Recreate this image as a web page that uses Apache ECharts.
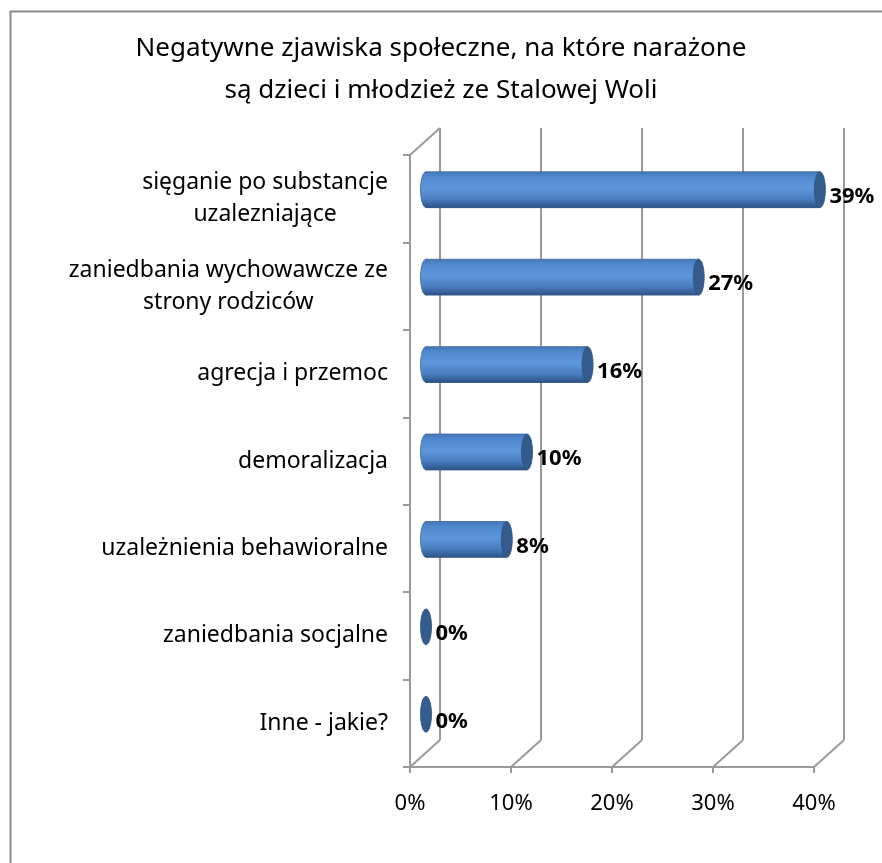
<!DOCTYPE html>
<html><head><meta charset="utf-8">
<script src="https://cdn.jsdelivr.net/npm/echarts@6/dist/echarts.min.js"></script>
<style>html,body{margin:0;padding:0;background:#fff}#c{width:882px;height:863px}</style>
</head><body><div id="c"></div>
<script>
var titleLines = ['Negatywne zjawiska społeczne, na które narażone', 'są dzieci i młodzież ze Stalowej Woli'];
var categories = ['sięganie po substancje\nuzalezniające', 'zaniedbania wychowawcze ze\nstrony rodziców', 'agrecja i przemoc', 'demoralizacja', 'uzależnienia behawioralne', 'zaniedbania socjalne', 'Inne - jakie?'];
var values = [39, 27, 16, 10, 8, 0, 0];
var valueLabels = ['39%', '27%', '16%', '10%', '8%', '0%', '0%'];
var xTicks = [0, 10, 20, 30, 40];

var FONT = '"Noto Sans", "Open Sans", sans-serif';
var GRID_COLOR = '#9a9a9a';
var DX = 30, DY = -27;

var chart = echarts.init(document.getElementById('c'), null, {renderer: 'canvas'});

function diagItem(params, api) {
  var cs = params.coordSys;
  var v = api.value(0);
  var x = api.coord([v, 0])[0];
  var bottom = cs.y + cs.height;
  var children = [{
    type: 'line', shape: {x1: x, y1: bottom, x2: x + DX, y2: bottom + DY},
    style: {stroke: GRID_COLOR, lineWidth: 2}
  }];
  if (v === 0) {
    children.push({
      type: 'line', shape: {x1: x, y1: cs.y, x2: x + DX, y2: cs.y + DY},
      style: {stroke: GRID_COLOR, lineWidth: 2}
    });
  }
  return {type: 'group', children: children};
}

function barItem(params, api) {
  var idx = api.value(1);
  var v = api.value(0);
  var start = api.coord([0, idx]);
  var end = api.coord([v, idx]);
  var band = api.size([0, 1])[1];
  var h = band * 0.41;
  var ry = h / 2, rx = 5.5;
  var grad = new echarts.graphic.LinearGradient(0, 0, 0, 1, [
    {offset: 0, color: '#4777b8'},
    {offset: 0.12, color: '#4f86cc'},
    {offset: 0.45, color: '#5d97da'},
    {offset: 0.75, color: '#4a7fc2'},
    {offset: 1, color: '#2c5387'}
  ]);
  var children = [];
  if (v > 0) {
    children.push({
      type: 'ellipse', shape: {cx: start[0], cy: start[1], rx: rx, ry: ry},
      style: {fill: grad, stroke: '#3a669e', lineWidth: 0.8}
    });
    children.push({
      type: 'rect', shape: {x: start[0], y: start[1] - ry, width: end[0] - start[0], height: h},
      style: {fill: grad}
    });
    children.push({
      type: 'line', shape: {x1: start[0], y1: start[1] - ry, x2: end[0], y2: end[1] - ry},
      style: {stroke: '#3a669e', lineWidth: 0.8}
    });
    children.push({
      type: 'line', shape: {x1: start[0], y1: start[1] + ry, x2: end[0], y2: end[1] + ry},
      style: {stroke: '#2a4d7c', lineWidth: 0.8}
    });
  }
  children.push({
    type: 'ellipse', shape: {cx: end[0], cy: end[1], rx: rx, ry: ry},
    style: {fill: '#335b8c', stroke: '#2c5080', lineWidth: 0.8}
  });
  children.push({
    type: 'text',
    style: {
      text: valueLabels[params.dataIndex], x: end[0] + rx + 4, y: end[1] + 7,
      align: 'left', verticalAlign: 'middle',
      font: 'bold 22px ' + FONT, fill: '#000'
    }
  });
  return {type: 'group', children: children};
}

var option = {
  animation: false,
  backgroundColor: '#fff',
  title: {
    text: titleLines.join('\n'),
    left: 'center', top: 23,
    textStyle: {fontFamily: FONT, fontSize: 26, fontWeight: 'normal', color: '#000', lineHeight: 42}
  },
  graphic: [{
    type: 'rect', left: 8, top: 9, shape: {width: 900, height: 900},
    style: {fill: 'none', stroke: '#8c8c8c', lineWidth: 2}, silent: true, z: -1
  }],
  grid: [
    {left: 440, top: 128, width: 404, height: 612},
    {left: 410, top: 155, width: 404, height: 612},
    {left: 426, top: 146, width: 404, height: 612}
  ],
  xAxis: [
    {gridIndex: 0, type: 'value', min: 0, max: 40, interval: 10,
     axisLine: {show: false}, axisTick: {show: false}, axisLabel: {show: false},
     splitLine: {show: true, lineStyle: {color: GRID_COLOR, width: 2}}},
    {gridIndex: 1, type: 'value', min: 0, max: 40, interval: 10,
     axisLine: {show: true, lineStyle: {color: GRID_COLOR, width: 2}},
     axisTick: {show: true, length: 6, lineStyle: {color: GRID_COLOR, width: 2}},
     splitLine: {show: false},
     axisLabel: {formatter: '{value}%', fontFamily: FONT, fontSize: 22, color: '#000', margin: 26}},
    {gridIndex: 2, type: 'value', min: 0, max: 40, show: false}
  ],
  yAxis: [
    {gridIndex: 0, type: 'category', data: categories, inverse: true, show: false},
    {gridIndex: 1, type: 'category', data: categories, inverse: true,
     axisLine: {show: true, lineStyle: {color: GRID_COLOR, width: 2}},
     axisTick: {show: true, length: 7, lineStyle: {color: GRID_COLOR, width: 2}},
     splitLine: {show: false},
     axisLabel: {
       margin: 22, fontFamily: FONT, fontSize: 23, color: '#000', lineHeight: 32,
       formatter: function (val) {
         return val.split('\n').map(function (l) { return '{c|' + l + '}'; }).join('\n');
       },
       rich: {c: {align: 'center', fontFamily: FONT, fontSize: 23, color: '#000', lineHeight: 32}}
     }},
    {gridIndex: 2, type: 'category', data: categories, inverse: true, show: false}
  ],
  series: [
    {type: 'custom', xAxisIndex: 1, yAxisIndex: 1, data: xTicks.map(function (t) { return [t, 0]; }),
     renderItem: diagItem, silent: true, z: 1},
    {type: 'custom', xAxisIndex: 2, yAxisIndex: 2,
     data: values.map(function (v, i) { return [v, i]; }),
     renderItem: barItem, z: 5}
  ]
};
chart.setOption(option);
</script>
</body></html>
